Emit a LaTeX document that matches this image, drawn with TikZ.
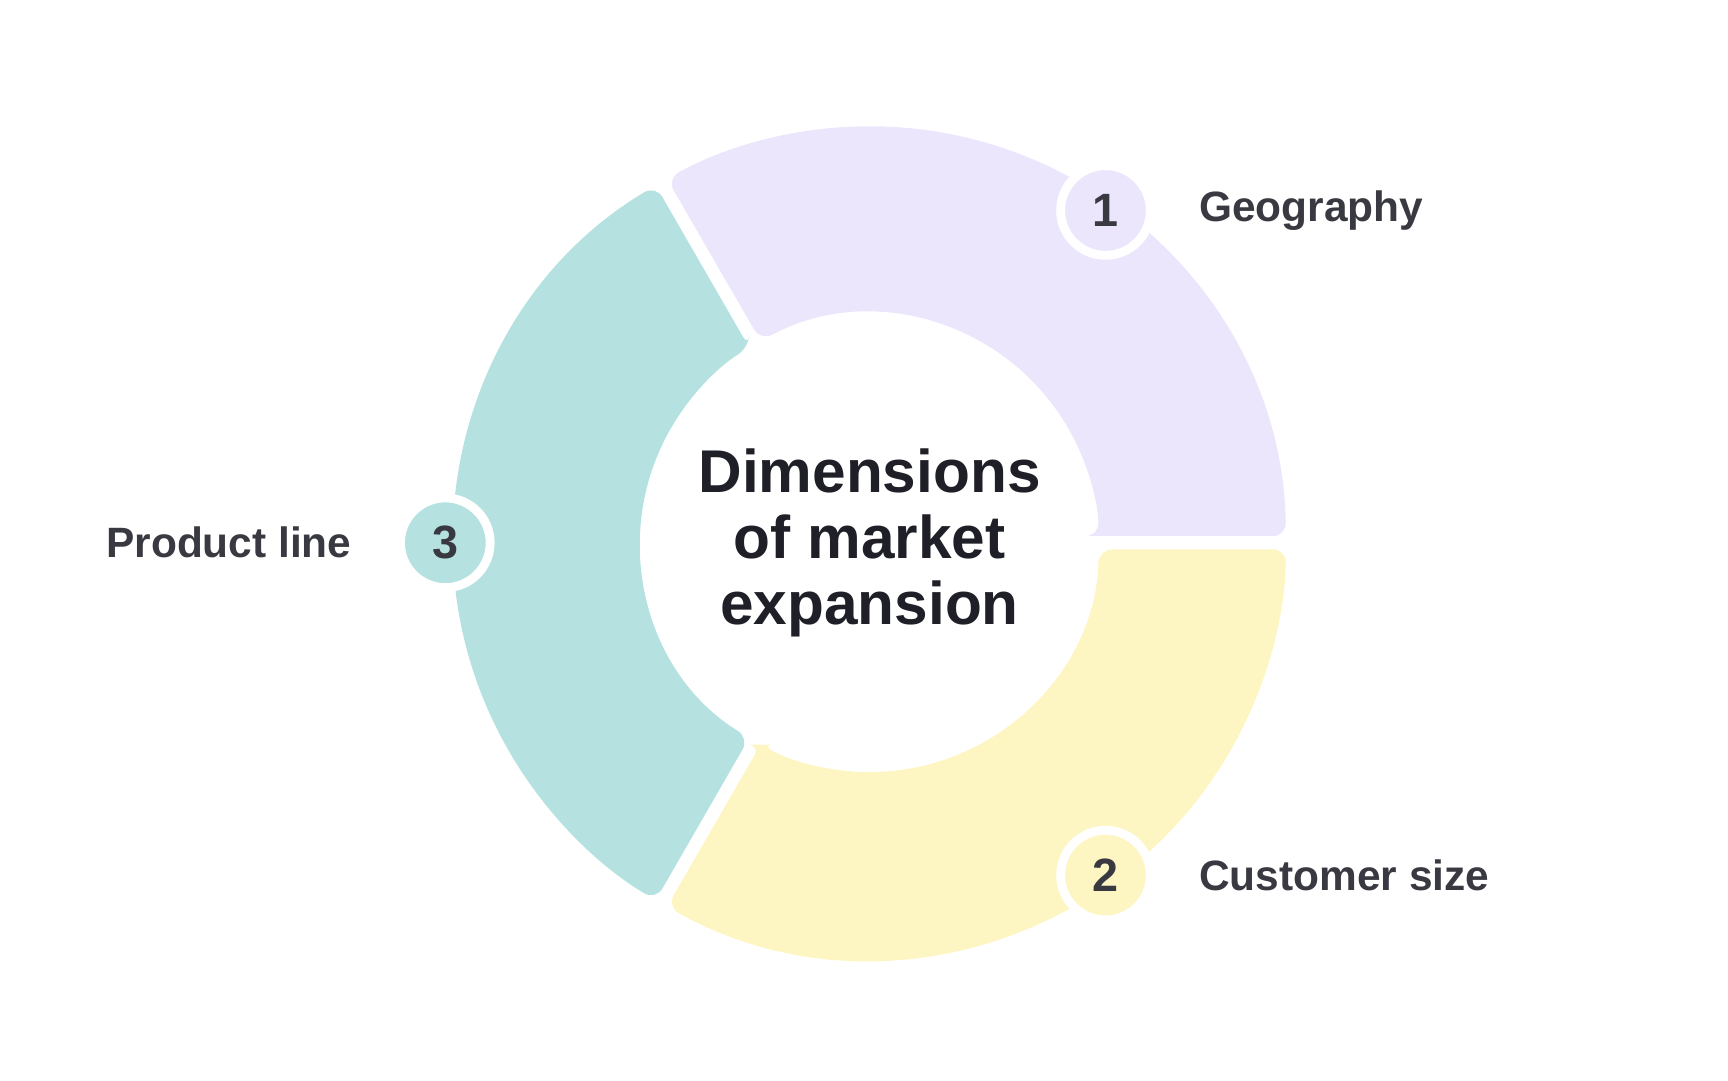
\documentclass[tikz,border=0pt]{standalone}
\usepackage{fontspec}
\setmainfont{Liberation Sans}
\usetikzlibrary{calc}
\definecolor{cpur}{HTML}{ECE6FD}
\definecolor{cteal}{HTML}{B5E2E0}
\definecolor{cyel}{HTML}{FDF6C3}
\definecolor{ctxt}{HTML}{393941}
\definecolor{ctitle}{HTML}{1F1F28}
\begin{document}
\begin{tikzpicture}
\tikzset{
  numc/.style={circle, minimum size=0.81cm, inner sep=0pt, draw=white, line width=0.08cm, font=\fontsize{12}{14}\bfseries\selectfont, text=ctxt},
  lbl/.style={font=\fontsize{10.9}{13}\bfseries\selectfont, text=ctxt, inner sep=0pt}
}
\useasboundingbox (0,0) rectangle (15.6,9.75);
\coordinate (C) at (7.85,4.85);
\def\ri{2.07}\def\ro{3.76}
\foreach \a/\b/\c in {0/120/cpur,120/240/cteal,240/360/cyel}{
  \fill[\c, rounded corners=0.12cm] ($(C)+(\a+1.66:\ri)$) -- ($(C)+(\a+0.9:\ro)$)
    arc[start angle=\a+0.9, end angle=\b-0.9, radius=\ro]
    -- ($(C)+(\b-1.66:\ri)$)
    arc[start angle=\b-1.66, end angle=\a+1.66, radius=\ri] -- cycle;
}
\node[numc, fill=cpur] (n1) at (9.98,7.85) {1};
\node[numc, fill=cyel] (n2) at (9.98,1.85) {2};
\node[numc, fill=cteal] (n3) at (4.02,4.85) {3};
\node[lbl, anchor=west] (l1) at (10.82,7.85) {Geography};
\node[lbl, anchor=west] (l2) at (10.82,1.85) {Customer size};
\node[lbl, anchor=east] (l3) at (3.18,4.85) {Product line};
\node[align=center, font=\fontsize{15.5}{17}\bfseries\selectfont, text=ctitle] (t) at (C) {Dimensions\\of market\\expansion};
\end{tikzpicture}
\end{document}
